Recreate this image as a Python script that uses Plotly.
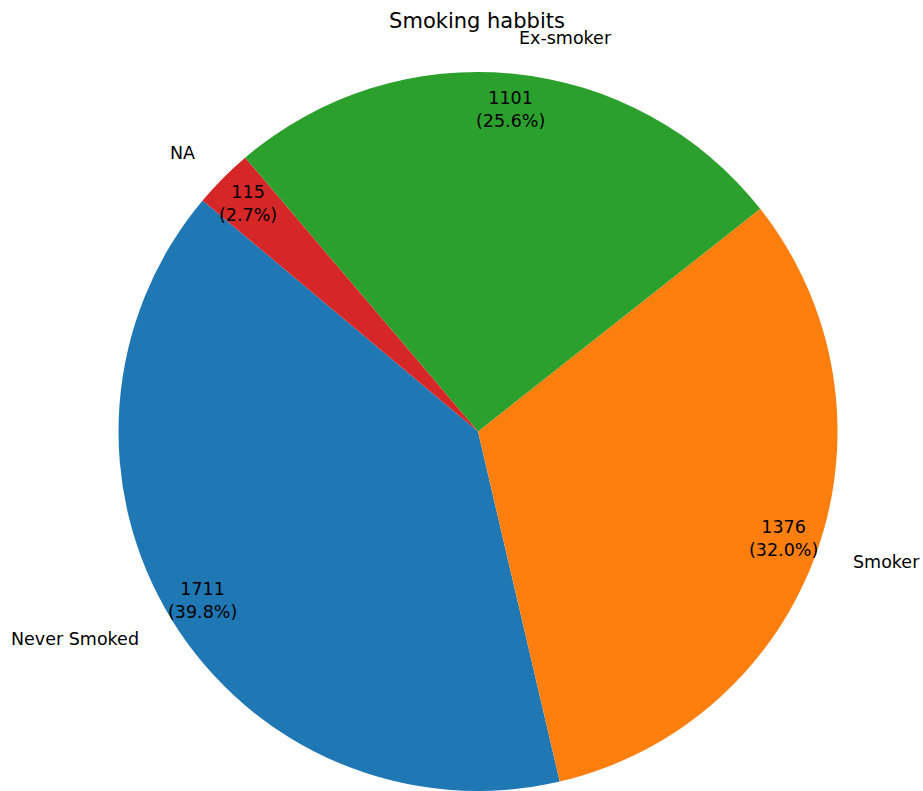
import math
import plotly.graph_objects as go

labels = ["Never Smoked", "Smoker", "Ex-smoker", "NA"]
values = [1711, 1376, 1101, 115]
colors = ["#1f77b4", "#ff7f0e", "#2ca02c", "#d62728"]
title_text = "Smoking habbits"

W, H = 923, 791
# pie placement in pixels (left, right, top)
px_left, px_right, px_top = 117.5, 838.5, 72.0
start_angle = 140.0  # degrees, counterclockwise from 3 o'clock
label_dist = 1.1
pct_dist = 0.9
font_family = "DejaVu Sans"
font_size = 17.5

dom_x = [px_left / W, px_right / W]
dom_y = [0.0, (H - px_top) / H]

total = sum(values)
first_span = values[0] / total * 360.0
# plotly (counterclockwise) puts the end of the first slice at the rotation angle
rotation = 90.0 - (start_angle + first_span)

fig = go.Figure()
fig.add_trace(go.Pie(
    labels=labels,
    values=values,
    marker=dict(colors=colors, line=dict(width=0)),
    sort=False,
    direction="counterclockwise",
    rotation=rotation,
    textinfo="none",
    hoverinfo="skip",
    showlegend=False,
    domain=dict(x=dom_x, y=dom_y),
))

# geometry of the pie in pixels, derived from the domain
dom_w = (dom_x[1] - dom_x[0]) * W
dom_h = (dom_y[1] - dom_y[0]) * H
radius = min(dom_w, dom_h) / 2.0
cx = (dom_x[0] + dom_x[1]) / 2.0 * W
cy_from_bottom = (dom_y[0] + dom_y[1]) / 2.0 * H

angle = start_angle
annotations = []
for lab, val in zip(labels, values):
    span = val / total * 360.0
    mid = math.radians(angle + span / 2.0)
    angle += span
    c, s = math.cos(mid), math.sin(mid)
    # outside label
    lx = (cx + radius * label_dist * c) / W
    ly = (cy_from_bottom + radius * label_dist * s) / H
    annotations.append(dict(
        x=lx, y=ly, xref="paper", yref="paper", text=lab, showarrow=False,
        xanchor="left" if c > 0 else "right", yanchor="middle",
        font=dict(family=font_family, size=font_size, color="black"),
    ))
    # inside value label
    px_ = (cx + radius * pct_dist * c) / W
    py_ = (cy_from_bottom + radius * pct_dist * s) / H
    pct = val / total * 100.0
    annotations.append(dict(
        x=px_, y=py_, xref="paper", yref="paper",
        text=f"{val}<br>({pct:.1f}%)", showarrow=False,
        xanchor="center", yanchor="middle", align="center",
        font=dict(family=font_family, size=font_size, color="black"),
    ))

fig.update_layout(
    width=W, height=H,
    margin=dict(l=0, r=0, t=0, b=0),
    paper_bgcolor="white",
    plot_bgcolor="white",
    title=dict(
        text=title_text, x=477 / W, xanchor="center", xref="paper",
        y=1 - 21 / H, yanchor="middle", yref="container",
        font=dict(family=font_family, size=21, color="black"),
    ),
    annotations=annotations,
)

fig.write_html(
    "out.html",
    config={"displayModeBar": False},
    post_script="document.body.style.margin='0px';document.body.style.overflow='hidden';",
)
